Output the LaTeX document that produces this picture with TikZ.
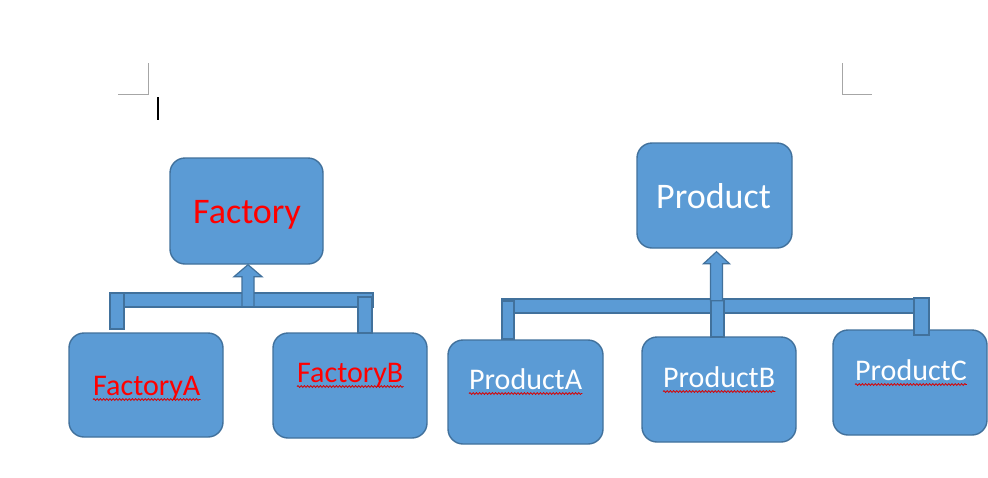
\documentclass[tikz,border=0pt]{standalone}
\usepackage{fontspec}
\setmainfont{Carlito}
\usetikzlibrary{calc,decorations.pathmorphing}
\definecolor{boxfill}{HTML}{5B9BD5}
\definecolor{boxline}{HTML}{41719C}
\definecolor{markgray}{HTML}{A6A6A6}
\tikzset{
  box/.style={draw=boxline, fill=boxfill, line width=1.4pt, rounded corners=15pt, inner sep=0pt},
  conn/.style={draw=boxline, fill=boxfill, line width=1.2pt, line join=miter},
  bigred/.style={text=red, font=\fontsize{36}{40}\selectfont, anchor=base west, inner sep=0pt},
  bigwhite/.style={text=white, font=\fontsize{36}{40}\selectfont, anchor=base west, inner sep=0pt},
  smallred/.style={text=red, font=\fontsize{30}{34}\selectfont, anchor=base west, inner sep=0pt},
  smallwhite/.style={text=white, font=\fontsize{30}{34}\selectfont, anchor=base west, inner sep=0pt},
  squig/.style={draw=red!85!black, line width=0.8pt, decorate, decoration={snake, amplitude=0.9pt, segment length=3.2pt}},
  cropmark/.style={draw=markgray, line width=0.9pt}
}
\begin{document}
\begin{tikzpicture}[x=1pt,y=-1pt]
\useasboundingbox (0,0) rectangle (988,477);
\fill[white] (0,0) rectangle (988,477);

% crop marks and cursor
\draw[cropmark] (148,63) -- (148,94) -- (118,94);
\draw[cropmark] (842,63) -- (842,94) -- (872,94);
\draw[black, line width=1.2pt] (158,97) -- (158,120);

% boxes
\node[box, minimum width=153pt, minimum height=106pt] (factory) at (246.5,211) {};
\node[box, minimum width=154pt, minimum height=104pt] (factA) at (146,385) {};
\node[box, minimum width=154pt, minimum height=105pt] (factB) at (350,385.5) {};
\node[box, minimum width=155pt, minimum height=105pt] (product) at (714.5,195.5) {};
\node[box, minimum width=155pt, minimum height=104pt] (prodA) at (525.5,392) {};
\node[box, minimum width=154pt, minimum height=105pt] (prodB) at (719,389.5) {};
\node[box, minimum width=154pt, minimum height=105pt] (prodC) at (910,382.5) {};

% left connector
\coordinate (tipL) at ($(factory.south)+(1.5,0)$);
\draw[conn] (110,293) rectangle (373,307);
\draw[conn] (110,293) rectangle (124,329);
\draw[conn] (358,297) rectangle (372,333);
\draw[conn] ($(tipL)+(-6,42)$) -- ($(tipL)+(-6,12)$) -- ($(tipL)+(-14,12)$) -- (tipL)
  -- ($(tipL)+(14,12)$) -- ($(tipL)+(6,12)$) -- ($(tipL)+(6,42)$) -- cycle;

% right connector
\coordinate (tipR) at ($(product.south)+(2,3)$);
\draw[conn] (502,299) rectangle (929,313);
\draw[conn] (502,301) rectangle (514,339);
\draw[conn] (711,300) rectangle (724,337);
\draw[conn] (914,298) rectangle (929,335);
\draw[conn] ($(tipR)+(-6,49)$) -- ($(tipR)+(-6,12)$) -- ($(tipR)+(-13,12)$) -- (tipR)
  -- ($(tipR)+(13,12)$) -- ($(tipR)+(6,12)$) -- ($(tipR)+(6,49)$) -- cycle;

% texts
\node[bigred] (tF) at (193,223) {Factory};
\node[smallred] (tFA) at (93,395) {FactoryA};
\node[smallred] (tFB) at (297,382) {FactoryB};
\node[bigwhite] (tP) at (656,208) {Product};
\node[smallwhite] (tPA) at (469,389) {ProductA};
\node[smallwhite] (tPB) at (663,387) {ProductB};
\node[smallwhite] (tPC) at (855,380) {ProductC};

% spell-check underlines
\foreach \t in {tFA,tFB,tPA,tPB,tPC}{
  \draw[squig] ([yshift=-4.5pt]\t.base west) -- ([yshift=-4.5pt]\t.base east);
}
\end{tikzpicture}
\end{document}
